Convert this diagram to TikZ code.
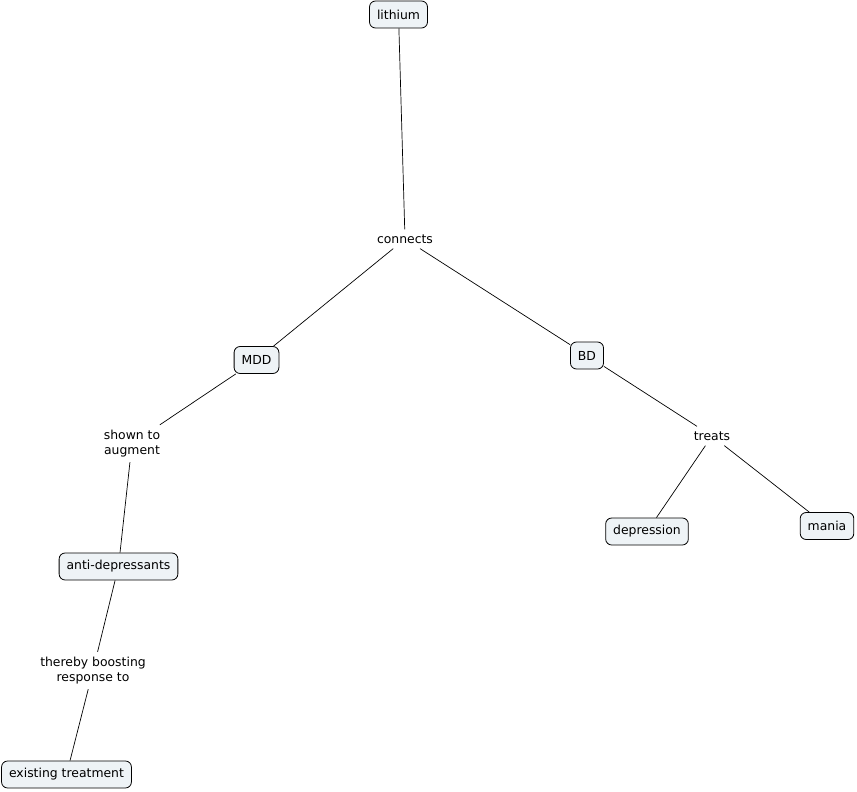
\documentclass[tikz,border=0pt]{standalone}
\usepackage{fontspec}
\setmainfont{DejaVu Sans}
\usepackage{xcolor}
\usepackage{tikz}
\usetikzlibrary{positioning}
\definecolor{conceptfill}{RGB}{238,243,246}
\tikzset{
  concept/.style={rectangle,draw=black,fill=conceptfill,rounded corners=6pt,line width=.8pt,
    minimum height=27pt,inner xsep=7.5pt,font=\fontsize{12.4}{15}\selectfont},
  linkph/.style={align=center,inner sep=5pt,font=\fontsize{12.4}{15}\selectfont},
  link/.style={line width=.7pt,black}
}
\begin{document}
\begin{tikzpicture}[x=1pt,y=-1pt]
  \useasboundingbox (0,0) rectangle (857,792);
  \node[concept] (lith) at (398.5,14.5) {lithium};
  \node[linkph] (conn) at (405,239) {connects};
  \node[concept] (mdd) at (256.5,360) {MDD};
  \node[concept] (bd) at (587,355.5) {BD};
  \node[linkph] (shown) at (132,443.5) {shown to\\augment};
  \node[linkph] (treats) at (712,436) {treats};
  \node[concept] (anti) at (118.5,566.5) {anti-depressants};
  \node[concept] (depr) at (647,531.5) {depression};
  \node[concept] (mania) at (827,526) {mania};
  \node[linkph] (boost) at (93,670.5) {thereby boosting\\response to};
  \node[concept] (exist) at (66.5,774.5) {existing treatment};
  \draw[link] (lith)--(conn);
  \draw[link] (conn)--(mdd);
  \draw[link] (conn)--(bd);
  \draw[link] (mdd)--(shown)--(anti);
  \draw[link] (bd)--(treats);
  \draw[link] (treats)--(depr);
  \draw[link] (treats)--(mania);
  \draw[link] (anti)--(boost)--(exist);
\end{tikzpicture}
\end{document}
